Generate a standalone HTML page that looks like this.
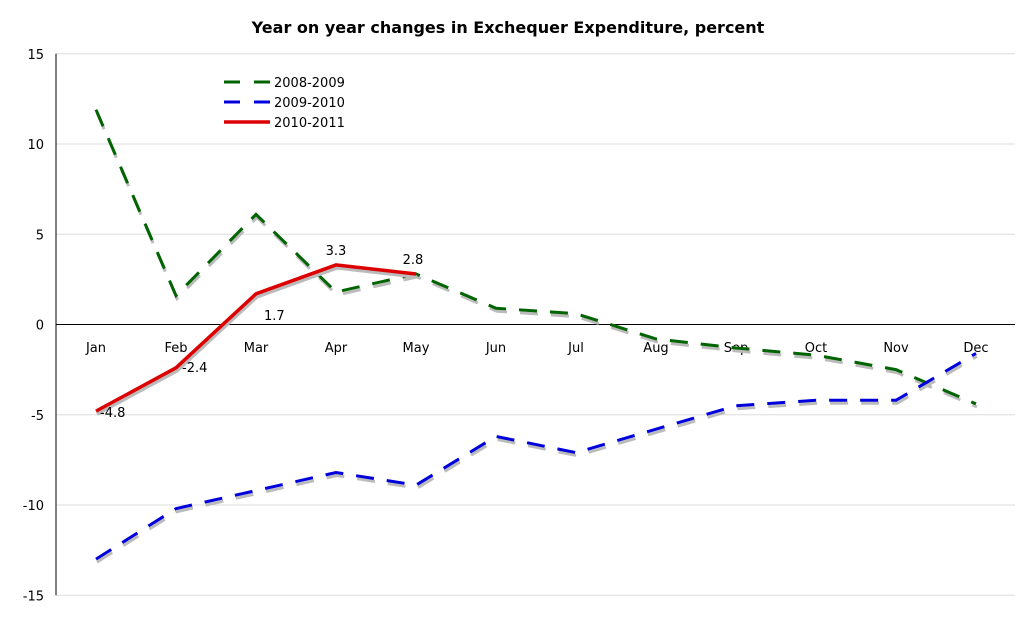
<!DOCTYPE html>
<html><head><meta charset="utf-8"><style>
body{margin:0;background:#fff;width:1020px;height:623px;overflow:hidden}
svg text{font-family:"DejaVu Sans","Liberation Sans",sans-serif}
</style></head><body>
<svg id="c" width="1020" height="623">
<text x="508" y="33" text-anchor="middle" font-size="16" font-weight="bold">Year on year changes in Exchequer Expenditure, percent</text>
<g id="grid"></g><g id="series"></g><g id="labels"></g>
<g>
<line x1="224" y1="82" x2="270" y2="82" stroke="#006400" stroke-width="3" stroke-dasharray="16,14"/>
<text x="274" y="87" font-size="13">2008-2009</text>
<line x1="224" y1="102" x2="270" y2="102" stroke="#0000dd" stroke-width="3" stroke-dasharray="16,14"/>
<text x="274" y="107" font-size="13">2009-2010</text>
<line x1="224" y1="122" x2="270" y2="122" stroke="#dd0000" stroke-width="3.5"/>
<text x="274" y="127" font-size="13">2010-2011</text>
</g>
</svg>
<script>
const months=["Jan","Feb","Mar","Apr","May","Jun","Jul","Aug","Sep","Oct","Nov","Dec"];
const yTicks=[15,10,5,0,-5,-10,-15];
const s2008=[11.9,1.6,6.1,1.8,2.8,0.9,0.6,-0.8,-1.3,-1.7,-2.5,-4.4];
const s2009=[-13.0,-10.2,-9.2,-8.2,-8.9,-6.2,-7.1,-5.8,-4.5,-4.2,-4.2,-1.6];
const s2010=[-4.8,-2.4,1.7,3.3,2.8];
const s2010Labels=["-4.8","-2.4","1.7","3.3","2.8"];
const NS="http://www.w3.org/2000/svg";
const X=i=>96+i*80;
const Y=v=>324.5-v*18.05;
function mk(tag,attrs,parent){const e=document.createElementNS(NS,tag);for(const k in attrs)e.setAttribute(k,attrs[k]);parent.appendChild(e);return e;}
const grid=document.getElementById('grid'),ser=document.getElementById('series'),lab=document.getElementById('labels');
yTicks.forEach(t=>{
 const l=mk('line',{x1:56,x2:1015,y1:Y(t),y2:Y(t),stroke:t===0?'#000':'#ddd','stroke-width':1},grid);
 
 
 const tx=mk('text',{x:44,y:Y(t)+5,'text-anchor':'end','font-size':13},grid);tx.textContent=t;
 
 
});
const ax=mk('line',{x1:56,x2:56,y1:Y(15),y2:Y(-15),stroke:'#000'},grid);


months.forEach((m,i)=>{const t=mk('text',{x:X(i),y:352,'text-anchor':'middle','font-size':13},grid);t.textContent=m;
 
 });
function pts(a,dx,dy){return a.map((v,i)=>(X(i)+dx)+','+(Y(v)+dy)).join(' ');}
function draw(a,color,dash,w,name){
 const sh=mk('polyline',{points:pts(a,1,3),fill:'none',stroke:'#bbb','stroke-width':w,'stroke-dasharray':dash||'none'},ser);
 
 
 const p=mk('polyline',{points:pts(a,0,0),fill:'none',stroke:color,'stroke-width':w,'stroke-dasharray':dash||'none'},ser);
 
 
}
draw(s2008,'#006400','18,13',3,'series-2008-2009');
draw(s2009,'#0000dd','18,13',3,'series-2009-2010');
draw(s2010,'#dd0000',null,3.5,'series-2010-2011');
const off=[[4,6],[6,4],[8,26],[0,-10],[-3,-10]];
s2010.forEach((v,i)=>{const t=mk('text',{x:X(i)+off[i][0],y:Y(v)+off[i][1],'font-size':13,'text-anchor':i>2?'middle':'start'},lab);
 t.textContent=s2010Labels[i];
 
 });
</script>
</body></html>
